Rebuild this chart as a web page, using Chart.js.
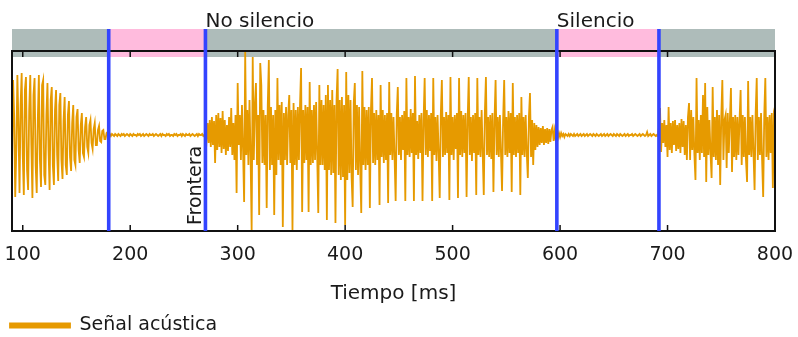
<!DOCTYPE html>
<html lang="es">
<head>
<meta charset="UTF-8">
<title>Señal acústica</title>
<script src="https://cdn.jsdelivr.net/npm/chart.js"></script>
<style>
  html, body { margin: 0; padding: 0; background: #fff; }
</style>
</head>
<body>
<canvas id="signalChart" width="798" height="337"></canvas>
<script>
// sampling grid of the trace (ms)
const startMs = 90;
const stepMs = 1;

// acoustic signal, one value per ms
const signal = [
  -30, 55, 20, -62, -15, 60, 10, -58, 30, 62,
  -20, -60, 45, 58, -35, -55, 25, 60, -10, -63,
  40, 57, -30, -58, 15, 60, -25, -52, 50, 55,
  -40, -50, 20, 52, -15, -55, 35, 48, -30, -50,
  25, 45, -20, -46, 30, 42, -25, -44, 15, 38,
  -30, -40, 20, 34, -22, -36, 12, 30, -25, -30,
  18, 26, -15, -28, 10, 22, -18, -22, 8, 18,
  -12, -18, 10, 15, -8, -14, 6, 12, -10, -10,
  5, 9, -6, -7, 4, 5, -4, -4, 2, 3,
  -2, 1, -1, 1, 0, -1, 1, 0, -1, 1,
  0, -1, 1, 0, 1, -1, 0, 1, 0, -1,
  1, 0, -1, 1, 0, 0, -1, 1, 0, 1,
  -1, 0, 1, -1, 0, 1, 0, -1, 1, 0,
  0, 1, -1, 0, 1, 0, -1, 0, 1, -1,
  1, 0, 0, -1, 1, 0, 1, -1, 0, 0,
  -1, 1, 0, 1, -1, 0, 0, 1, -1, 1,
  0, -1, 1, 0, 0, 1, -1, 0, 1, 0,
  -1, 0, 1, -1, 1, 0, 0, 1, -1, 0,
  0, -6, 12, -8, 15, -12, 18, -10, 14, -28,
  20, -15, 22, -12, 17, -18, 24, -14, 15, -20,
  10, -16, 18, -12, 27, -20, 12, -25, 20, -58,
  52, -10, 20, -25, 30, -15, -67, 83, -20, 25,
  -30, 35, -20, -95, 78, -25, 30, 52, -30, 20,
  -80, 72, 50, -28, 25, -30, 20, -73, 30, 75,
  -35, 28, -30, 20, -80, 25, -40, 57, -25, 30,
  -30, 33, -92, 22, -25, 28, -30, 20, 40, -28,
  25, -95, 32, -30, 25, -35, 28, -25, 30, 67,
  -77, 25, -28, 30, -25, 28, -77, 53, -30, 25,
  -28, 30, -25, 33, -20, -78, 50, -30, 35, -30,
  30, -35, 40, -85, 50, -35, 35, -40, 45, -38,
  30, -88, 35, 66, -40, 35, -45, 38, -42, 30,
  -90, 63, -45, 40, -38, 35, -42, -72, 32, 52,
  -35, 30, -40, 28, -32, -78, 64, -30, 28, -35,
  25, -30, 28, -73, 25, 57, -28, 22, -30, 25,
  -25, 20, -70, 50, -22, 25, -28, 20, -25, 22,
  -68, 53, -20, 22, -25, 18, -22, -66, 20, 48,
  -20, 18, -25, 20, -15, 24, -66, 57, -20, 18,
  -22, 26, -18, 22, -66, 59, -20, 14, -24, 20,
  -18, 22, -66, 15, 57, -20, 25, -22, 20, -16,
  22, -66, 57, -20, 18, -26, 20, -18, -63, 20,
  55, -22, 18, -20, 23, -18, 20, -65, 58, -20,
  18, -25, 20, -14, 22, -63, 57, -20, 24, -22,
  20, -18, 22, -62, 15, 58, -20, 18, -26, 20,
  -18, 22, -60, 57, -20, 18, -22, 25, -18, -60,
  22, 58, -20, 18, -22, 20, -24, 22, -57, 15,
  55, -20, 18, -22, 20, -18, -56, 15, 55, -20,
  18, -22, 24, -18, 22, -57, 52, -20, 18, -22,
  20, -18, 22, -60, 38, -20, 18, -22, 20, -18,
  -43, 18, 42, -22, 15, -30, 12, -15, 10, -12,
  8, -10, 7, -8, 9, -10, 6, -8, 7, -9,
  6, -7, 5, 8, -6, 4, -5, 3, -3, 2,
  -2, 2, -1, 1, -2, 1, 0, -1, 1, -1,
  1, 0, -1, 1, -1, 0, 1, -1, 0, 1,
  -1, 0, 1, -1, 0, 1, -1, 0, 1, 0,
  -1, 1, 0, -1, 1, 0, -1, 0, 1, -1,
  0, 1, -1, 0, 1, -1, 0, 1, 0, -1,
  1, 0, -1, 1, 0, -1, 1, 0, -1, 0,
  1, -1, 0, 1, -1, 0, 0, 1, -1, 0,
  1, 0, -1, 0, 1, -1, 0, 1, 0, -1,
  0, 3, -1, 0, 1, -1, 0, 1, 0, -1,
  0, -1, 8, 27, -17, 12, -8, 15, -12, 10,
  -22, 28, -15, 12, -18, 14, -10, 15, -16, 10,
  -14, 12, -18, 16, -12, 14, -20, 10, -25, 18,
  32, -25, 25, -15, 18, -20, -45, 57, -18, 15,
  -25, 20, -18, 40, -22, 52, -47, 28, -20, 15,
  -18, -43, 48, -22, 18, -25, 25, -30, 20, -50,
  18, 55, -25, 15, 20, -33, 22, -18, 15, 47,
  -37, 18, -22, 20, -25, 18, -20, 15, 45, -30,
  20, -22, 18, -25, -47, 54, -20, 18, -22, 20,
  -18, -55, 22, 57, -25, 18, -20, 22, -25, -62,
  20, 57, -22, 18, -25, 20, -18, 22, -53, 20,
  15
];

const tickValues = [100, 200, 300, 400, 500, 600, 700, 800];

// segmentation band on top
const segStart = [90, 180, 270, 597, 692];
const segEnd = [180, 270, 597, 692, 800];
const segSilent = [false, true, false, true, false];
const boundaries = [180, 270, 597, 692];
const regionLabels = ['No silencio', 'Silencio'];
const regionLabelAt = [270, 597];

const FONT = '"DejaVu Sans", Verdana, sans-serif';
const ORANGE = '#e69a00';

const overlay = {
  id: 'overlay',
  beforeDatasetsDraw(chart) {
    const {ctx, chartArea: a, scales: {x}} = chart;
    ctx.save();
    for (let i = 0; i < segStart.length; i++) {
      const x0 = x.getPixelForValue(segStart[i]);
      const x1 = x.getPixelForValue(segEnd[i]);
      ctx.fillStyle = segSilent[i] ? '#ffbbdd' : '#aebcba';
      ctx.fillRect(x0, a.top - 22, x1 - x0, 28);
    }
    ctx.restore();
  },
  afterDatasetsDraw(chart) {
    const {ctx, chartArea: a, scales: {x}} = chart;
    ctx.save();
    // frame and inward ticks
    ctx.strokeStyle = '#111';
    ctx.lineWidth = 2;
    ctx.strokeRect(a.left, a.top, a.right - a.left, a.bottom - a.top);
    ctx.lineWidth = 1.5;
    ctx.beginPath();
    tickValues.forEach(v => {
      const px = x.getPixelForValue(v);
      ctx.moveTo(px, a.top);
      ctx.lineTo(px, a.top + 6);
      ctx.moveTo(px, a.bottom);
      ctx.lineTo(px, a.bottom - 6);
    });
    ctx.stroke();
    // boundaries
    ctx.strokeStyle = '#3344ff';
    ctx.lineWidth = 3.6;
    boundaries.forEach(b => {
      const px = x.getPixelForValue(b);
      ctx.beginPath();
      ctx.moveTo(px, a.top - 22);
      ctx.lineTo(px, a.bottom);
      ctx.stroke();
    });
    // labels
    ctx.fillStyle = '#1a1a1a';
    ctx.font = '20px ' + FONT;
    ctx.textAlign = 'left';
    ctx.textBaseline = 'alphabetic';
    regionLabels.forEach((t, i) => {
      ctx.fillText(t, x.getPixelForValue(regionLabelAt[i]), a.top - 24.5);
    });
    ctx.font = '19px ' + FONT;
    ctx.translate(x.getPixelForValue(270) - 4.5, a.bottom - 6);
    ctx.rotate(-Math.PI / 2);
    ctx.fillText('Frontera', 0, 0);
    ctx.restore();
  }
};

new Chart(document.getElementById('signalChart'), {
  type: 'line',
  data: {
    datasets: [{
      label: 'Señal acústica',
      data: signal.map((v, i) => ({x: startMs + i * stepMs, y: v})),
      borderColor: ORANGE,
      backgroundColor: ORANGE,
      borderWidth: 1.8,
      pointRadius: 0,
      tension: 0
    }]
  },
  options: {
    responsive: false,
    animation: false,
    layout: {padding: {top: 51, right: 23, bottom: -8, left: 0}},
    plugins: {
      legend: {
        position: 'bottom',
        align: 'start',
        labels: {
          boxWidth: 60,
          boxHeight: 4,
          padding: 10,
          color: '#1a1a1a',
          font: {family: FONT, size: 19}
        }
      },
      tooltip: {enabled: false}
    },
    scales: {
      x: {
        type: 'linear',
        min: 90,
        max: 800,
        afterBuildTicks: s => { s.ticks = tickValues.map(v => ({value: v})); },
        grid: {display: false, drawTicks: true, tickLength: 10},
        border: {display: false},
        ticks: {padding: 3, color: '#1a1a1a', font: {family: FONT, size: 19}},
        title: {
          display: true,
          text: 'Tiempo [ms]',
          color: '#1a1a1a',
          font: {family: FONT, size: 20},
          padding: {top: 12.2, bottom: 0}
        }
      },
      y: {
        min: -96,
        max: 84,
        afterFit: s => { s.width = 12; },
        grid: {display: false, drawTicks: false},
        border: {display: false},
        ticks: {display: false}
      }
    }
  },
  plugins: [overlay]
});
</script>
</body>
</html>
